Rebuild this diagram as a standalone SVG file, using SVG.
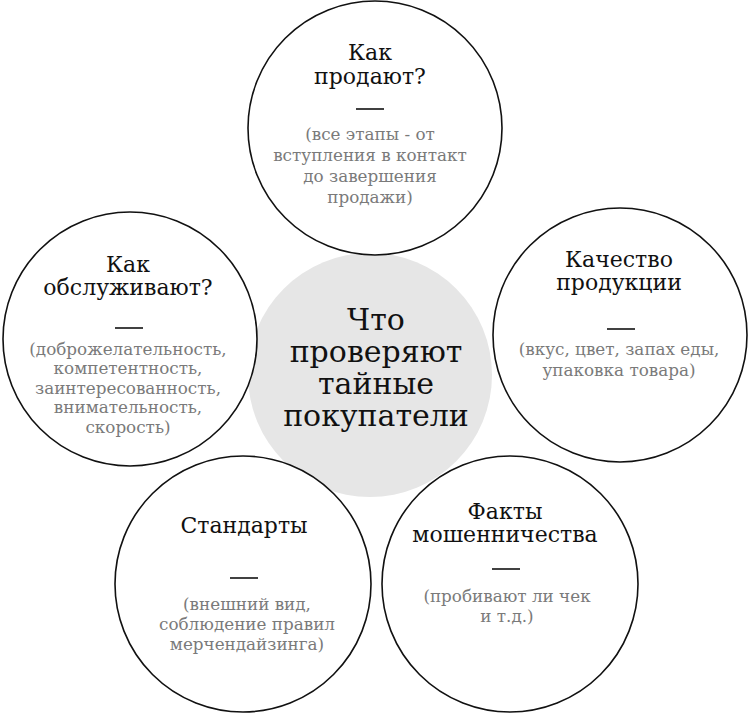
<svg xmlns="http://www.w3.org/2000/svg" width="750" height="714" viewBox="0 0 750 714">
  <style>
    .bubble { fill: #ffffff; stroke: #111111; stroke-width: 1.6; }
    .hub { fill: #e6e6e6; stroke: none; }
    .title { font-family: "DejaVu Serif", "Liberation Serif", serif; font-size: 22px; fill: #111111; text-anchor: middle; }
    .sub { font-family: "DejaVu Serif", "Liberation Serif", serif; font-size: 16.8px; fill: #7a7a7a; text-anchor: middle; }
    .hubtext { font-family: "DejaVu Serif", "Liberation Serif", serif; font-size: 30px; fill: #111111; text-anchor: middle; }
    .dash { stroke: #111111; stroke-width: 1.6; }
  </style>
  <rect width="750" height="714" fill="#ffffff"/>

  <g id="hub">
    <circle class="hub" cx="370" cy="375" r="122"/>
  </g>

  <g id="node-sell">
    <circle class="bubble" cx="375" cy="128" r="127"/>
    <text class="title" x="370" y="60">Как</text>
    <text class="title" x="370" y="84">продают?</text>
    <line class="dash" x1="356" y1="109" x2="384" y2="109"/>
    <text class="sub" x="370" y="140">(все этапы - от</text>
    <text class="sub" x="370" y="161">вступления в контакт</text>
    <text class="sub" x="370" y="182">до завершения</text>
    <text class="sub" x="370" y="203">продажи)</text>
  </g>

  <g id="node-service">
    <circle class="bubble" cx="130" cy="339" r="127"/>
    <text class="title" x="128" y="272">Как</text>
    <text class="title" x="128" y="295">обслуживают?</text>
    <line class="dash" x1="115" y1="328" x2="143" y2="328"/>
    <text class="sub" x="128" y="355">(доброжелательность,</text>
    <text class="sub" x="128" y="374">компетентность,</text>
    <text class="sub" x="128" y="394">заинтересованность,</text>
    <text class="sub" x="128" y="413">внимательность,</text>
    <text class="sub" x="128" y="433">скорость)</text>
  </g>

  <g id="node-quality">
    <circle class="bubble" cx="620" cy="335" r="127"/>
    <text class="title" x="619" y="267">Качество</text>
    <text class="title" x="619" y="290">продукции</text>
    <line class="dash" x1="607" y1="329" x2="635" y2="329"/>
    <text class="sub" x="619" y="355">(вкус, цвет, запах еды,</text>
    <text class="sub" x="619" y="376">упаковка товара)</text>
  </g>

  <g id="node-standards">
    <circle class="bubble" cx="243" cy="584" r="128"/>
    <text class="title" x="244" y="533">Стандарты</text>
    <line class="dash" x1="230" y1="578" x2="258" y2="578"/>
    <text class="sub" x="247" y="610">(внешний вид,</text>
    <text class="sub" x="247" y="630">соблюдение правил</text>
    <text class="sub" x="247" y="650">мерчендайзинга)</text>
  </g>

  <g id="node-fraud">
    <circle class="bubble" cx="510" cy="584" r="128"/>
    <text class="title" x="505" y="519">Факты</text>
    <text class="title" x="505" y="542">мошенничества</text>
    <line class="dash" x1="492" y1="569" x2="520" y2="569"/>
    <text class="sub" x="507" y="602">(пробивают ли чек</text>
    <text class="sub" x="507" y="622">и т.д.)</text>
  </g>

  <g id="hub-label">
    <text class="hubtext" x="376" y="330">Что</text>
    <text class="hubtext" x="376" y="362">проверяют</text>
    <text class="hubtext" x="376" y="394">тайные</text>
    <text class="hubtext" x="376" y="426">покупатели</text>
  </g>
</svg>
